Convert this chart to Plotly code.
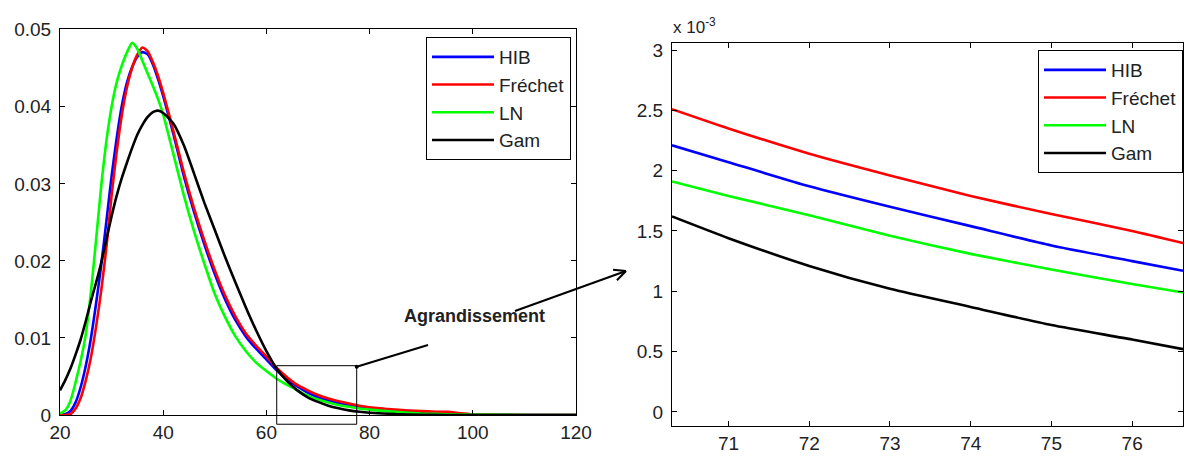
import math
import plotly.graph_objects as go

W, H = 1185, 457

# ---- full density curves ----
x_full = list(range(20, 41)) + list(range(42, 81, 2)) + [85, 90, 95, 100, 110, 120]

hib = [0, 0.0001, 0.0005, 0.0016, 0.0036, 0.0064, 0.0100, 0.0145, 0.0195, 0.0252,
       0.0310, 0.0360, 0.0402, 0.0432, 0.0452, 0.0465, 0.0471, 0.0468, 0.0455, 0.0436, 0.0414,
       0.0364, 0.0310, 0.0263, 0.0221, 0.0183, 0.0150, 0.0123, 0.0102, 0.0086, 0.0072,
       0.0058, 0.0046, 0.0037, 0.0029, 0.0023, 0.00187, 0.00154, 0.00125, 0.0010, 0.0008,
       0.0005, 0.0003, 0.0001, 0, 0, 0]

frechet = [0, 0, 0.0001, 0.0008, 0.0022, 0.0045, 0.0075, 0.0115, 0.0162, 0.0218,
           0.0285, 0.0342, 0.0390, 0.0426, 0.0451, 0.0468, 0.0477, 0.0472, 0.0458, 0.0440, 0.0418,
           0.0368, 0.0315, 0.0268, 0.0226, 0.0188, 0.0155, 0.0128, 0.0106, 0.0090, 0.0076,
           0.0061, 0.0049, 0.0039, 0.0032, 0.0026, 0.00214, 0.00179, 0.0015, 0.0012, 0.0010,
           0.0007, 0.0005, 0.0004, 0.0001, 0, 0]

ln = [0.0002, 0.0006, 0.0018, 0.0042, 0.0070, 0.0105, 0.0160, 0.0228, 0.0298, 0.0356,
      0.0400, 0.0432, 0.0454, 0.0471, 0.0483, 0.0475, 0.0459, 0.0443, 0.0427, 0.0410, 0.0390,
      0.0338, 0.0285, 0.0238, 0.0196, 0.0157, 0.0127, 0.0102, 0.0083, 0.0068, 0.0057,
      0.0047, 0.0039, 0.0032, 0.0025, 0.0020, 0.00163, 0.00131, 0.00106, 0.00085, 0.0007,
      0.0004, 0.0002, 0.0001, 0.00005, 0, 0]

gam = [0.0032, 0.0045, 0.0060, 0.0078, 0.0098, 0.0122, 0.0148, 0.0172, 0.0198, 0.0228,
       0.0258, 0.0285, 0.0308, 0.0328, 0.0347, 0.0364, 0.0377, 0.0387, 0.0393, 0.0395, 0.0392,
       0.0378, 0.0350, 0.0313, 0.0275, 0.0240, 0.0205, 0.0172, 0.0140, 0.0110, 0.0083,
       0.0060, 0.0044, 0.0032, 0.0023, 0.0017, 0.00121, 0.00087, 0.0006, 0.00042, 0.0003,
       0.00012, 0.00004, 0, 0, 0, 0]

# ---- enlarged tail (values x 10^-3) ----
x_zoom = [70.3, 71, 72, 73, 74, 75, 76, 76.63]
hib_zoom = [2.21, 2.07, 1.87, 1.70, 1.54, 1.38, 1.25, 1.17]
frechet_zoom = [2.51, 2.35, 2.14, 1.96, 1.79, 1.64, 1.50, 1.40]
ln_zoom = [1.91, 1.79, 1.63, 1.46, 1.31, 1.18, 1.06, 0.99]
gam_zoom = [1.62, 1.44, 1.21, 1.02, 0.87, 0.72, 0.60, 0.52]

names = ["HIB", "Fréchet", "LN", "Gam"]
colors = ["#0000ff", "#ff0000", "#00ff00", "#000000"]

FONT = "Liberation Sans, Arial, sans-serif"
TEXT_COL = "#222"

# plot-area rectangles in pixels (left, top, right, bottom)
LEFT_BOX = (60, 29, 576, 415)
RIGHT_BOX = (672, 43, 1183, 426)


def px(xp):
    return xp / W


def py(yp):
    return 1 - yp / H


fig = go.Figure()

for name, col, ys in zip(names, colors, [hib, frechet, ln, gam]):
    fig.add_trace(go.Scatter(x=x_full, y=ys, mode="lines", name=name,
                             line=dict(color=col, width=2.6, shape="spline", smoothing=0.6),
                             xaxis="x", yaxis="y", legend="legend"))

for name, col, ys in zip(names, colors, [hib_zoom, frechet_zoom, ln_zoom, gam_zoom]):
    fig.add_trace(go.Scatter(x=x_zoom, y=ys, mode="lines", name=name,
                             line=dict(color=col, width=2.6, shape="spline", smoothing=0.6),
                             xaxis="x2", yaxis="y2", legend="legend2"))

axis_common = dict(showline=True, linecolor="black", linewidth=1, mirror="ticks",
                   ticks="inside", ticklen=5, tickcolor="black", showgrid=False,
                   zeroline=False, automargin=False,
                   tickfont=dict(family=FONT, size=19, color=TEXT_COL))

X_RANGE = [20, 120]
Y_RANGE = [0, 0.0501]
X2_RANGE = [70.3, 76.63]
Y2_RANGE = [-0.117, 3.058]

legend_common = dict(xanchor="left", yanchor="top", bgcolor="white",
                     bordercolor="black", borderwidth=1, itemwidth=62,
                     font=dict(family=FONT, size=19, color=TEXT_COL), tracegroupgap=0)

fig.update_layout(
    width=W, height=H,
    margin=dict(l=0, r=0, t=0, b=0, autoexpand=False),
    paper_bgcolor="white", plot_bgcolor="white",
    xaxis=dict(domain=[px(LEFT_BOX[0]), px(LEFT_BOX[2])], range=X_RANGE,
               tickvals=[20, 40, 60, 80, 100, 120], anchor="y", **axis_common),
    yaxis=dict(domain=[py(LEFT_BOX[3]), py(LEFT_BOX[1])], range=Y_RANGE,
               tickvals=[0, 0.01, 0.02, 0.03, 0.04, 0.05], anchor="x",
               ticklabelstandoff=4, **axis_common),
    xaxis2=dict(domain=[px(RIGHT_BOX[0]), px(RIGHT_BOX[2])], range=X2_RANGE,
                tickvals=[71, 72, 73, 74, 75, 76], anchor="y2", **axis_common),
    yaxis2=dict(domain=[py(RIGHT_BOX[3]), py(RIGHT_BOX[1])], range=Y2_RANGE,
                tickvals=[0, 0.5, 1, 1.5, 2, 2.5, 3], anchor="x2",
                ticklabelstandoff=4, **axis_common),
    legend=dict(x=px(426), y=py(37), **legend_common),
    legend2=dict(x=px(1038), y=py(50), **legend_common),
    showlegend=True,
)

# enlarged region outline on the full plot
ZOOM_X = [62, 77.5]
ZOOM_Y = [-0.0012, 0.0064]


def dom(v, r):
    return (v - r[0]) / (r[1] - r[0])


zx0, zx1 = dom(ZOOM_X[0], X_RANGE), dom(ZOOM_X[1], X_RANGE)
zy0, zy1 = dom(ZOOM_Y[0], Y_RANGE), dom(ZOOM_Y[1], Y_RANGE)
fig.add_shape(type="rect", xref="x domain", yref="y domain",
              x0=zx0, x1=zx1, y0=zy0, y1=zy1, line=dict(color="black", width=1))

# corner of the outline in pixels
corner_x = LEFT_BOX[0] + zx1 * (LEFT_BOX[2] - LEFT_BOX[0])
corner_y = LEFT_BOX[3] - zy1 * (LEFT_BOX[3] - LEFT_BOX[1])


def seg(x0, y0, x1, y1, width=2):
    fig.add_shape(type="line", xref="paper", yref="paper",
                  x0=px(x0), y0=py(y0), x1=px(x1), y1=py(y1),
                  line=dict(color="black", width=width))


# connector from the outline to the caption
seg(corner_x, corner_y + 1, 428, 345)
fig.add_shape(type="circle", xref="paper", yref="paper",
              x0=px(corner_x - 2), x1=px(corner_x + 2), y0=py(corner_y + 3), y1=py(corner_y - 1),
              fillcolor="black", line=dict(color="black", width=0))

fig.add_annotation(x=px(474), y=py(328), xref="paper", yref="paper",
                   text="<b>Agrandissement</b>", showarrow=False,
                   font=dict(family=FONT, size=18, color=TEXT_COL))

# arrow from the caption to the enlarged plot
tail = (515, 311)
tip = (626, 271)
seg(*tail, *tip)
ang = math.atan2(tip[1] - tail[1], tip[0] - tail[0])
for d in (-0.45, 0.45):
    seg(tip[0], tip[1],
        tip[0] - 13 * math.cos(ang + d), tip[1] - 13 * math.sin(ang + d))

fig.add_annotation(x=px(671), y=py(26), xref="paper", yref="paper", xanchor="left",
                   yanchor="middle", text="x 10<sup>-3</sup>", showarrow=False,
                   font=dict(family=FONT, size=17, color=TEXT_COL))

fig.write_html("out.html")
